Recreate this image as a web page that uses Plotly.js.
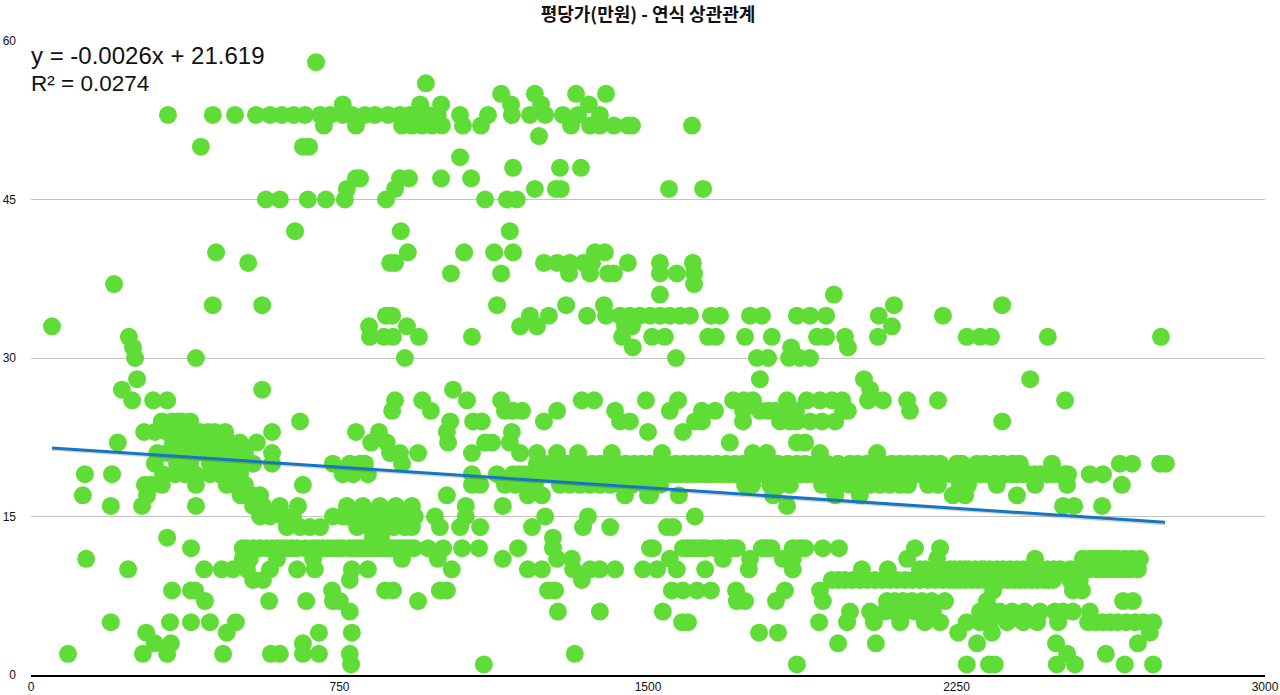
<!DOCTYPE html>
<html><head><meta charset="utf-8">
<script src="https://cdn.plot.ly/plotly-3.0.1.min.js"></script>
<style>html,body{margin:0;padding:0;background:#fff}</style></head>
<body><div id="chart" style="width:1280px;height:695px"></div>
<script>
const chartTitle = "평당가(만원) - 연식 상관관계";
const xTicks = [0,750,1500,2250,3000];
const yTicks = [0,15,30,45,60];
const trendX = [51,2757];
const trendY = [21.49,14.45];
const trendShadowY = [21.36,14.32];
const equationLines = ["y = -0.0026x + 21.619","R² = 0.0274"];
const rows = {
58:[693],
56:[960],
55:[1143,1225,1325,1398],
54:[758,946,997,1167,1240,1356],
53:[333,442,496,547,581,610,639,666,703,727,758,780,812,836,868,897,921,941,965,989,1043,1111,1169,1213,1250,1293,1330,1383],
52:[712,790,902,926,951,975,999,1050,1094,1313,1359,1383,1417,1451,1461,1607],
51:[1235],
50:[413,661,676],
49:[1043],
48:[1172,1286,1337],
47:[790,800,897,919,997,1070],
46:[768,885,1225,1276,1288,1551,1634],
45:[571,605,673,717,763,863,1104,1157,1181],
42:[642,899,1164],
40:[450,916,1053,1126,1172,1371,1395],
39:[528,873,885,1247,1279,1310,1344,1364,1451,1529,1609],
38:[1021,1143,1308,1359,1403,1417,1529,1570,1612],
37:[202,1612],
36:[1529,1952],
35:[442,562,1133,1301,1393,2098,2361],
34:[863,878,1213,1259,1352,1398,1432,1456,1480,1505,1529,1553,1578,1602,1653,1675,1748,1777,1862,1894,1933,2061,2217],
33:[51,822,914,1189,1230,1444,1461,2093],
32:[238,824,858,880,943,1072,1437,1510,1541,1646,1665,1736,1801,1911,1933,1979,2059,2275,2307,2334,2472,2747],
31:[248,1463,1848,1986],
30:[253,401,909,1568,1765,1792,1843,1869,1894],
28:[258,1772,2025,2429],
27:[221,562,1026,2040],
26:[246,297,331,885,951,1060,1143,1339,1369,1495,1573,1707,1733,1755,1838,1886,1918,1947,1972,2035,2071,2130,2205,2514],
25:[878,972,1152,1172,1194,1279,1420,1553,1631,1663,1731,1772,1792,1809,1845,1860,1974,1986,2137],
24:[318,343,355,367,387,654,1019,1075,1096,1247,1432,1456,1614,1631,1731,1821,1845,1862,1894,1923,1955,2361],
23:[275,301,331,357,379,411,430,447,472,586,790,846,1011,1169,1500,1585],
22:[211,345,374,399,428,459,484,508,549,827,865,1014,1104,1121,1164,1699,1862,1882],
21:[307,331,355,379,404,428,452,476,496,520,586,873,897,941,1072,1189,1230,1279,1330,1412,1534,1755,1789,1918,2057],
20:[301,355,387,435,459,484,515,540,586,734,775,800,812,902,1230,1250,1266,1286,1305,1325,1344,1364,1383,1408,1427,1446,1466,1485,1505,1524,1544,1568,1587,1607,1626,1646,1668,1690,1711,1731,1755,1777,1797,1816,1840,1862,1882,1906,1935,1962,1991,2010,2032,2052,2071,2093,2113,2132,2151,2171,2190,2210,2251,2263,2300,2319,2343,2363,2385,2404,2482,2647,2677,2745,2759],
19:[131,197,321,350,374,399,435,459,484,508,758,783,819,1072,1133,1172,1187,1201,1216,1230,1245,1259,1274,1288,1303,1318,1332,1347,1362,1376,1391,1405,1420,1434,1449,1463,1478,1493,1507,1522,1537,1551,1566,1580,1595,1609,1624,1639,1653,1668,1682,1697,1711,1726,1741,1755,1770,1784,1799,1814,1828,1843,1858,1872,1887,1901,1916,1930,1945,1959,1974,1989,2003,2018,2033,2047,2062,2076,2091,2105,2120,2134,2150,2164,2179,2193,2208,2222,2237,2251,2266,2280,2295,2309,2324,2339,2353,2368,2383,2397,2412,2426,2441,2455,2470,2485,2500,2514,2521,2574,2606],
18:[277,294,318,401,476,496,520,661,1072,1092,1152,1177,1201,1225,1286,1310,1335,1359,1383,1408,1437,1461,1493,1529,1736,1753,1797,1821,1845,1923,1942,1967,1991,2015,2040,2064,2088,2113,2132,2181,2205,2258,2278,2348,2441,2519,2652],
17:[126,282,510,525,540,557,1011,1208,1242,1444,1500,1505,1575,1804,1955,2015,2241,2271,2397],
16:[194,270,401,540,564,605,649,768,807,848,887,926,1057,1147,1838,2509,2536,2604],
15:[557,581,613,637,734,758,770,788,800,817,830,846,860,875,890,904,918,933,982,1057,1250,1354,1614],
14:[622,654,678,703,793,824,851,861,882,909,926,994,1043,1092,1218,1342,1408,1546,1561],
13:[331,831,851,1269],
12:[389,515,525,540,557,574,586,598,610,622,634,647,667,686,698,710,722,734,746,758,775,784,795,804,814,824,834,844,853,863,873,882,892,902,912,921,931,965,1002,1048,1089,1184,1269,1505,1512,1585,1595,1604,1614,1625,1633,1643,1662,1672,1680,1698,1707,1716,1777,1785,1792,1800,1852,1865,1872,1882,1925,1964,2149,2210],
11:[134,515,532,598,686,902,989,1147,1279,1315,1553,1682,1748,1828,1852,2130,2203,2441,2557,2574,2587,2600,2608,2618,2628,2640,2659,2677,2696],
10:[236,421,464,491,525,581,647,690,780,819,1023,1208,1242,1318,1359,1383,1420,1488,1522,1570,1639,1745,1852,2020,2083,2161,2175,2190,2198,2212,2234,2245,2258,2270,2280,2295,2310,2318,2331,2348,2363,2380,2397,2412,2425,2441,2455,2470,2486,2502,2526,2540,2557,2572,2591,2607,2623,2640,2655,2672,2691],
9:[540,564,775,1339,1947,1963,1979,1997,2015,2033,2052,2070,2088,2106,2125,2143,2161,2180,2198,2216,2234,2246,2258,2273,2288,2302,2317,2331,2346,2360,2375,2390,2404,2418,2433,2448,2463,2474,2485,2526,2550],
8:[343,389,399,732,861,880,994,1011,1257,1274,1558,1585,1619,1653,1714,1833,1918,2339,2533,2555],
7:[423,579,669,734,751,941,1716,1736,1811,1925,2081,2100,2120,2142,2166,2190,2222,2324,2655,2679],
6:[775,1281,1383,1536,1991,2040,2076,2100,2125,2149,2173,2193,2307,2340,2356,2385,2416,2453,2489,2509,2533,2574],
5:[194,338,389,435,498,1583,1597,1916,1984,2049,2113,2173,2210,2275,2307,2331,2373,2412,2446,2497,2570,2588,2606,2624,2642,2663,2684,2705,2728],
4:[280,476,700,780,1770,1816,2254,2336,2720],
3:[301,340,661,1962,2054,2300,2492,2691],
2:[90,272,331,467,583,605,661,700,775,1322,2519,2613],
1:[778,1101,1862,2275,2329,2343,2494,2538,2659,2728]
};
const xValues = [], yValues = [];
Object.keys(rows).forEach(k => rows[k].forEach(v => { xValues.push(v); yValues.push(+k); }));

const fontLatin = '"Liberation Sans", Arial, sans-serif';
const traces = [
 {type:'scatter',mode:'markers',x:xValues,y:yValues,hoverinfo:'skip',cliponaxis:false,
  marker:{size:18,color:'#60dc37',line:{width:0}}},
 {type:'scatter',mode:'lines',x:trendX,y:trendShadowY,hoverinfo:'skip',
  line:{color:'rgba(60,60,60,0.22)',width:3}},
 {type:'scatter',mode:'lines',x:trendX,y:trendY,hoverinfo:'skip',
  line:{color:'#1577c4',width:3}}
];
const layout = {
 width:1280,height:695,showlegend:false,paper_bgcolor:'#fff',plot_bgcolor:'#fff',
 margin:{l:31,r:15,t:40.5,b:20,pad:0},
 title:{text:chartTitle,x:0.5,xanchor:'center',xref:'paper',y:0.979,yanchor:'middle',
  font:{family:'"Noto Sans CJK KR"',size:18,color:'#111',weight:700}},
 xaxis:{range:[0,3000],tickvals:xTicks,ticktext:xTicks.map(String),showgrid:false,zeroline:false,
  showline:true,linecolor:'#000',linewidth:2,ticks:'',tickangle:0,ticklabelstandoff:0,
  tickfont:{family:fontLatin,size:12,color:'#111'}},
 yaxis:{range:[0,60],tickvals:yTicks,ticktext:yTicks.map(String),showgrid:true,gridcolor:'#c4c4c4',gridwidth:1,
  zeroline:false,showline:false,ticks:'',ticklabelstandoff:14,
  tickfont:{family:fontLatin,size:12,color:'#111'}},
 annotations:equationLines.map((t,i)=>({text:t,showarrow:false,xref:'x',yref:'y',x:0,y:i===0?58.6:56,
  xanchor:'left',yanchor:'middle',font:{family:fontLatin,size:i===0?24:22.5,color:'#111'},xshift:-2}))
};
Plotly.newPlot('chart',traces,layout,{displayModeBar:false,staticPlot:true});
</script></body></html>
